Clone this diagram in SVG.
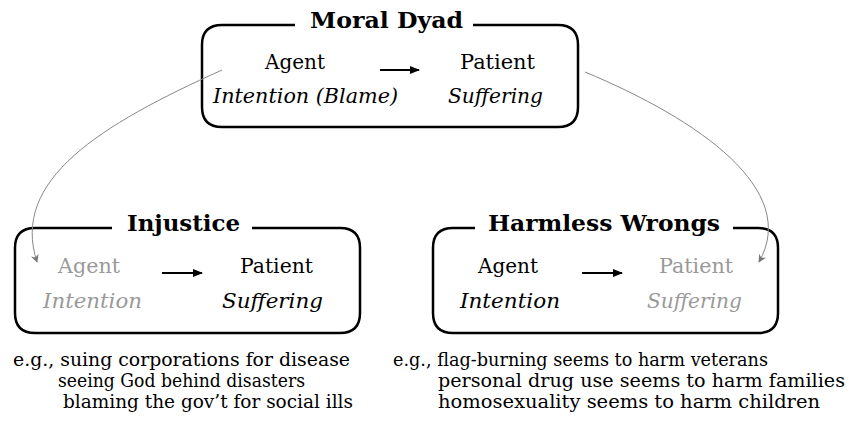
<svg xmlns="http://www.w3.org/2000/svg" width="849" height="431" viewBox="0 0 849 431">
<defs>
<marker id="ah" viewBox="0 0 10 10" refX="9" refY="5" markerWidth="5" markerHeight="5" orient="auto" markerUnits="strokeWidth"><path d="M0,1 L10,5 L0,9 z" fill="#000"/></marker>
<marker id="gh" viewBox="0 0 10 10" refX="9" refY="5" markerWidth="8" markerHeight="8" orient="auto" markerUnits="strokeWidth"><path d="M0,0 L10,5 L0,10 L3,5 z" fill="#777"/></marker>
<style>
.t{font-family:'DejaVu Serif','Liberation Serif',Georgia,serif;font-size:20px;fill:#000}
.title{font-weight:bold;font-size:22px}
.it{font-style:italic}
.gr{fill:#999}
.box{fill:none;stroke:#000;stroke-width:2.5}
.arr{stroke:#000;stroke-width:2;marker-end:url(#ah)}
.conn{fill:none;stroke:#888;stroke-width:1;marker-end:url(#gh)}
.ex{font-size:19px}
</style>
</defs>
<rect width="849" height="431" fill="#fff"/>
<g id="moral-dyad">
<path class="box" d="M295,25 H222 Q202,25 202,45 V107 Q202,127 222,127 H558 Q578,127 578,107 V45 Q578,25 558,25 H473"/>
<text class="t title" x="310" y="28" textLength="153" lengthAdjust="spacingAndGlyphs">Moral Dyad</text>
<text class="t" x="265" y="69" textLength="60" lengthAdjust="spacingAndGlyphs">Agent</text>
<text class="t it" x="213" y="103" textLength="185" lengthAdjust="spacingAndGlyphs">Intention (Blame)</text>
<line class="arr" x1="380" y1="70" x2="419" y2="70"/>
<text class="t" x="460" y="69" textLength="75" lengthAdjust="spacingAndGlyphs">Patient</text>
<text class="t it" x="448" y="103" textLength="95" lengthAdjust="spacingAndGlyphs">Suffering</text>
</g>
<g id="injustice">
<path class="box" d="M112,228 H35 Q15,228 15,248 V313 Q15,333 35,333 H340 Q360,333 360,313 V248 Q360,228 340,228 H252"/>
<text class="t title" x="127" y="231" textLength="113" lengthAdjust="spacingAndGlyphs">Injustice</text>
<text class="t gr" x="58" y="273" textLength="62" lengthAdjust="spacingAndGlyphs">Agent</text>
<text class="t it gr" x="43" y="308" textLength="99" lengthAdjust="spacingAndGlyphs">Intention</text>
<line class="arr" x1="162" y1="273" x2="202" y2="273"/>
<text class="t" x="240" y="273" textLength="73" lengthAdjust="spacingAndGlyphs">Patient</text>
<text class="t it" x="222" y="308" textLength="101" lengthAdjust="spacingAndGlyphs">Suffering</text>
<text class="t ex" x="13" y="366" textLength="337" lengthAdjust="spacingAndGlyphs">e.g., suing corporations for disease</text>
<text class="t ex" x="58" y="387" textLength="247" lengthAdjust="spacingAndGlyphs">seeing God behind disasters</text>
<text class="t ex" x="63" y="408" textLength="290" lengthAdjust="spacingAndGlyphs">blaming the gov’t for social ills</text>
</g>
<g id="harmless-wrongs">
<path class="box" d="M475,228 H453 Q433,228 433,248 V313 Q433,333 453,333 H758 Q778,333 778,313 V248 Q778,228 758,228 H733"/>
<text class="t title" x="488" y="231" textLength="232" lengthAdjust="spacingAndGlyphs">Harmless Wrongs</text>
<text class="t" x="478" y="273" textLength="60" lengthAdjust="spacingAndGlyphs">Agent</text>
<text class="t it" x="460" y="308" textLength="100" lengthAdjust="spacingAndGlyphs">Intention</text>
<line class="arr" x1="582" y1="273" x2="622" y2="273"/>
<text class="t gr" x="659" y="273" textLength="74" lengthAdjust="spacingAndGlyphs">Patient</text>
<text class="t it gr" x="647" y="308" textLength="95" lengthAdjust="spacingAndGlyphs">Suffering</text>
<text class="t ex" x="393" y="366" textLength="375" lengthAdjust="spacingAndGlyphs">e.g., flag-burning seems to harm veterans</text>
<text class="t ex" x="438" y="387" textLength="407" lengthAdjust="spacingAndGlyphs">personal drug use seems to harm families</text>
<text class="t ex" x="438" y="408" textLength="382" lengthAdjust="spacingAndGlyphs">homosexuality seems to harm children</text>
</g>
<g id="connectors">
<path class="conn" d="M222,70 C100,125 10,180 37,262"/>
<path class="conn" d="M585,72 C700,120 800,190 759,262"/>
</g>
</svg>
